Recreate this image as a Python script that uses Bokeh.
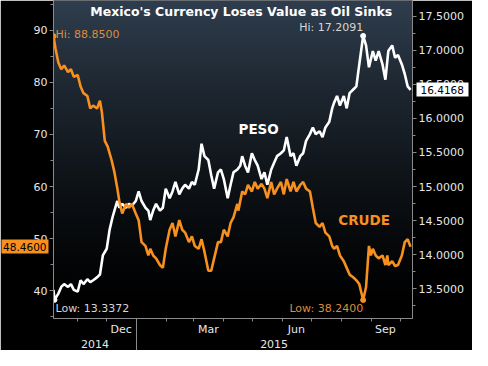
import numpy as np
import pandas as pd
from bokeh.plotting import figure
from bokeh.models import (Range1d, LinearAxis, DatetimeAxis, FixedTicker, SingleIntervalTicker,
                          NumeralTickFormatter, CustomJSTickFormatter, Label)
from bokeh.embed import file_html
from bokeh.resources import INLINE

# ---------------- data ----------------
crude_dates = [
    "2014-10-07", "2014-10-09", "2014-10-12", "2014-10-15", "2014-10-18", "2014-10-22", "2014-10-25",
    "2014-10-28", "2014-11-01", "2014-11-04", "2014-11-07", "2014-11-11", "2014-11-14", "2014-11-17",
    "2014-11-21", "2014-11-24", "2014-11-26", "2014-11-29", "2014-12-02", "2014-12-06", "2014-12-09",
    "2014-12-12", "2014-12-14", "2014-12-17", "2014-12-21", "2014-12-24", "2014-12-27", "2014-12-31",
    "2015-01-03", "2015-01-06", "2015-01-10", "2015-01-13", "2015-01-15", "2015-01-18", "2015-01-21",
    "2015-01-25", "2015-01-28", "2015-01-31", "2015-02-04", "2015-02-07", "2015-02-10", "2015-02-14",
    "2015-02-17", "2015-02-20", "2015-02-24", "2015-02-27", "2015-03-02", "2015-03-06", "2015-03-09",
    "2015-03-12", "2015-03-16", "2015-03-19", "2015-03-22", "2015-03-26", "2015-03-29", "2015-04-01",
    "2015-04-05", "2015-04-08", "2015-04-11", "2015-04-15", "2015-04-16", "2015-04-20", "2015-04-23",
    "2015-04-26", "2015-04-30", "2015-05-03", "2015-05-06", "2015-05-10", "2015-05-13", "2015-05-16",
    "2015-05-20", "2015-05-23", "2015-05-26", "2015-05-30", "2015-06-02", "2015-06-05", "2015-06-09",
    "2015-06-12", "2015-06-15", "2015-06-19", "2015-06-22", "2015-06-25", "2015-06-29", "2015-07-02",
    "2015-07-05", "2015-07-09", "2015-07-12", "2015-07-15", "2015-07-19", "2015-07-22", "2015-07-24",
    "2015-07-27", "2015-07-30", "2015-08-03", "2015-08-06", "2015-08-09", "2015-08-13", "2015-08-16",
    "2015-08-19", "2015-08-23", "2015-08-26", "2015-08-29", "2015-08-31", "2015-09-02", "2015-09-05",
    "2015-09-08", "2015-09-12", "2015-09-15", "2015-09-17", "2015-09-18", "2015-09-22", "2015-09-25",
    "2015-09-28", "2015-10-02", "2015-10-05", "2015-10-08", "2015-10-11",
]
crude_values = [
    88.85, 86.52, 83.77, 82.49, 83.22, 81.94, 82.49,
    81.03, 81.39, 79.19, 77.91, 77.36, 74.98, 75.53,
    74.98, 76.45, 74.25, 68.75, 67.66, 65.09, 62.71,
    59.60, 57.22, 54.84, 56.67, 55.93, 56.67, 54.84,
    53.55, 49.34, 48.61, 46.78, 48.06, 46.78, 46.23,
    44.95, 44.40, 48.06, 51.72, 53.00, 50.44, 53.55,
    51.72, 51.17, 49.34, 50.44, 48.61, 48.06, 49.89,
    47.51, 43.85, 43.85, 46.23, 49.34, 49.34, 51.72,
    50.44, 53.00, 54.10, 56.67, 55.38, 59.05, 58.50,
    60.33, 59.05, 60.88, 59.60, 60.51, 59.60, 57.77,
    60.88, 58.50, 59.60, 60.88, 58.50, 61.43, 59.05,
    60.88, 59.05, 60.33, 60.88, 59.60, 59.05, 55.93,
    53.00, 52.27, 53.00, 51.17, 50.44, 48.61, 48.06,
    48.61, 46.78, 45.68, 44.40, 43.11, 42.56, 42.01,
    41.28, 38.24, 40.73, 48.61, 46.78, 48.06, 46.78,
    46.23, 46.78, 44.95, 46.78, 44.95, 45.68, 44.76,
    44.95, 46.78, 49.34, 49.89, 48.46,
]

peso_dates = [
    "2014-10-07", "2014-10-08", "2014-10-12", "2014-10-15", "2014-10-18", "2014-10-22", "2014-10-25",
    "2014-10-28", "2014-11-01", "2014-11-04", "2014-11-07", "2014-11-11", "2014-11-14", "2014-11-17",
    "2014-11-21", "2014-11-24", "2014-11-27", "2014-12-01", "2014-12-04", "2014-12-07", "2014-12-11",
    "2014-12-12", "2014-12-14", "2014-12-17", "2014-12-21", "2014-12-24", "2014-12-27", "2014-12-31",
    "2015-01-03", "2015-01-06", "2015-01-10", "2015-01-13", "2015-01-15", "2015-01-18", "2015-01-21",
    "2015-01-25", "2015-01-28", "2015-01-31", "2015-02-04", "2015-02-07", "2015-02-10", "2015-02-14",
    "2015-02-17", "2015-02-20", "2015-02-24", "2015-02-27", "2015-03-02", "2015-03-06", "2015-03-09",
    "2015-03-12", "2015-03-16", "2015-03-19", "2015-03-22", "2015-03-26", "2015-03-29", "2015-04-01",
    "2015-04-05", "2015-04-08", "2015-04-11", "2015-04-15", "2015-04-18", "2015-04-20", "2015-04-23",
    "2015-04-26", "2015-04-30", "2015-05-03", "2015-05-06", "2015-05-10", "2015-05-13", "2015-05-16",
    "2015-05-20", "2015-05-23", "2015-05-26", "2015-05-30", "2015-06-02", "2015-06-05", "2015-06-09",
    "2015-06-12", "2015-06-15", "2015-06-19", "2015-06-22", "2015-06-25", "2015-06-29", "2015-07-02",
    "2015-07-05", "2015-07-09", "2015-07-12", "2015-07-15", "2015-07-19", "2015-07-22", "2015-07-24",
    "2015-07-27", "2015-07-30", "2015-08-03", "2015-08-06", "2015-08-09", "2015-08-13", "2015-08-16",
    "2015-08-19", "2015-08-23", "2015-08-26", "2015-08-29", "2015-09-02", "2015-09-05", "2015-09-08",
    "2015-09-12", "2015-09-15", "2015-09-18", "2015-09-22", "2015-09-25", "2015-09-28", "2015-10-02",
    "2015-10-05", "2015-10-08", "2015-10-11",
]
peso_values = [
    13.485, 13.3372, 13.429, 13.527, 13.569, 13.527, 13.569,
    13.485, 13.457, 13.625, 13.569, 13.639, 13.597, 13.625,
    13.667, 13.709, 13.989, 14.087, 14.367, 14.549, 14.745,
    14.787, 14.689, 14.745, 14.689, 14.745, 14.717, 14.787,
    14.927, 14.787, 14.689, 14.647, 14.507, 14.647, 14.745,
    14.647, 14.689, 14.969, 14.829, 14.927, 15.067, 14.885,
    14.969, 15.025, 14.969, 15.067, 15.025, 15.249, 15.627,
    15.445, 15.389, 15.165, 14.969, 15.207, 15.249, 15.109,
    14.829, 15.025, 15.207, 15.249, 15.305, 15.445, 15.305,
    15.207, 15.487, 15.389, 15.305, 15.109, 15.207, 15.025,
    15.249, 15.347, 15.445, 15.487, 15.529, 15.725, 15.445,
    15.487, 15.305, 15.445, 15.487, 15.669, 15.768, 15.866,
    15.768, 15.810, 15.725, 15.866, 15.950, 16.146, 16.230,
    16.328, 16.188, 16.328, 16.146, 16.370, 16.426, 16.468,
    16.790, 17.2091, 17.070, 16.748, 16.986, 16.846, 16.986,
    16.790, 16.566, 16.986, 17.070, 16.888, 16.930, 16.790,
    16.650, 16.468, 16.4168,
]

title_text = "Mexico's Currency Loses Value as Oil Sinks"
month_names = ["Jan", "Feb", "Mar", "Apr", "May", "Jun", "Jul", "Aug", "Sep", "Oct", "Nov", "Dec"]
month_label_dates = ["2014-12-16", "2015-03-16", "2015-06-15", "2015-09-15"]
month_start_dates = ["2014-11-01", "2014-12-01", "2015-01-01", "2015-02-01", "2015-03-01", "2015-04-01",
                     "2015-05-01", "2015-06-01", "2015-07-01", "2015-08-01", "2015-09-01", "2015-10-01"]
year_label_dates = ["2014-11-19", "2015-05-23"]
year_break_dates = ["2015-01-01"]
crude_ticks_interval = 10
peso_ticks_interval = 0.5

# ---------------- styling ----------------
ORANGE = "#f7901e"
ORANGE_TXT = "#dc8c3c"
WHITE = "#ffffff"
GRAY = "#8a8a8a"
TXT = "#e6e6e6"
FONT = "DejaVu Sans"

def ms(d):
    return pd.Timestamp(d).value / 1e6

x_start, x_end = "2014-10-07", "2015-10-13"
crude_lo, crude_hi = 34.69, 95.68
peso_lo, peso_hi = 13.064, 17.728

p = figure(width=472, height=350, x_axis_type="datetime",
           x_range=Range1d(ms(x_start), ms(x_end)), y_range=Range1d(crude_lo, crude_hi),
           output_backend="svg", toolbar_location=None,
           min_border_left=50, min_border_right=60, min_border_top=0, min_border_bottom=30,
           background_fill_color="#000000", border_fill_color="#000000", outline_line_color=None)
p.extra_y_ranges = {"peso": Range1d(peso_lo, peso_hi)}
p.xgrid.visible = False
p.ygrid.visible = False

# vertical gradient background of the plot area
n = 240
t = (np.linspace(0.0, 1.0, n) ** 1.4)[:, None]
top = np.array([47, 62, 78], dtype=float)[None, :]
rgb = (top * t).astype(np.uint8)
img = np.empty((n, 1), dtype=np.uint32)
view = img.view(dtype=np.uint8).reshape((n, 1, 4))
view[:, 0, 0] = rgb[:, 0]
view[:, 0, 1] = rgb[:, 1]
view[:, 0, 2] = rgb[:, 2]
view[:, 0, 3] = 255
p.image_rgba(image=[img], x=ms(x_start), y=crude_lo, dw=ms(x_end) - ms(x_start),
             dh=crude_hi - crude_lo, level="image")

crude_x = pd.to_datetime(crude_dates)
peso_x = pd.to_datetime(peso_dates)

p.line(peso_x, peso_values, y_range_name="peso", color=WHITE, line_width=2.6)
p.line(crude_x, crude_values, color=ORANGE, line_width=2.6)

ci_hi, ci_lo = int(np.argmax(crude_values)), int(np.argmin(crude_values))
pi_hi, pi_lo = int(np.argmax(peso_values)), int(np.argmin(peso_values))
p.scatter([crude_x[ci_hi], crude_x[ci_lo]], [crude_values[ci_hi], crude_values[ci_lo]],
          size=5, color=ORANGE)
p.scatter([peso_x[pi_hi], peso_x[pi_lo]], [peso_values[pi_hi], peso_values[pi_lo]],
          size=5, color=WHITE, y_range_name="peso")

# ---------------- axes ----------------
def style_axis(ax, size="11px"):
    ax.axis_line_color = GRAY
    ax.major_tick_line_color = GRAY
    ax.minor_tick_line_color = GRAY
    ax.major_label_text_color = TXT
    ax.major_label_text_font = FONT
    ax.major_label_text_font_size = size

ly = p.yaxis[0]
ly.ticker = SingleIntervalTicker(interval=crude_ticks_interval, num_minor_ticks=2)
style_axis(ly)
ly.major_tick_in = 0
ly.major_tick_out = 4
ly.minor_tick_in = 0
ly.minor_tick_out = 3
ly.major_label_standoff = 2

ry = LinearAxis(y_range_name="peso",
                ticker=SingleIntervalTicker(interval=peso_ticks_interval, num_minor_ticks=2),
                formatter=NumeralTickFormatter(format="0.0000"))
style_axis(ry)
ry.major_tick_in = 0
ry.major_tick_out = 4
ry.minor_tick_in = 0
ry.minor_tick_out = 3
ry.major_label_standoff = 2
p.add_layout(ry, "right")

# last-value boxes: single-tick axes whose thick tick forms the box behind the label
def value_box(ax, fill, tick_in, tick_out, standoff):
    ax.axis_line_color = None
    ax.minor_tick_line_color = None
    ax.major_tick_line_color = fill
    ax.major_tick_line_width = 14
    ax.major_tick_line_cap = "butt"
    ax.major_tick_in = tick_in
    ax.major_tick_out = tick_out
    ax.minor_tick_in = 0
    ax.minor_tick_out = 0
    ax.major_label_standoff = standoff
    ax.major_label_text_font = FONT
    ax.major_label_text_font_size = "10.5px"
    ax.major_label_text_color = "#000000"

ry2 = LinearAxis(y_range_name="peso", ticker=FixedTicker(ticks=[peso_values[-1]]),
                 formatter=NumeralTickFormatter(format="0.0000"))
value_box(ry2, WHITE, 50, 2, -48)
p.add_layout(ry2, "right")

ly2 = LinearAxis(ticker=FixedTicker(ticks=[crude_values[-1]]),
                 formatter=NumeralTickFormatter(format="0.0000"))
value_box(ly2, ORANGE, 18, 29, -45)
p.add_layout(ly2, "left")

bx = p.xaxis[0]
bx.ticker = FixedTicker(ticks=[ms(d) for d in month_label_dates],
                        minor_ticks=[ms(d) for d in month_start_dates])
bx.formatter = CustomJSTickFormatter(args=dict(names=month_names),
                                     code="return names[new Date(tick).getUTCMonth()];")
style_axis(bx)
bx.major_tick_line_color = None
bx.major_tick_in = 0
bx.major_tick_out = 3
bx.minor_tick_in = 0
bx.minor_tick_out = 3
bx.major_label_standoff = 1

yx = DatetimeAxis(ticker=FixedTicker(ticks=[ms(d) for d in year_label_dates],
                                     minor_ticks=[ms(d) for d in year_break_dates]),
                  formatter=CustomJSTickFormatter(code="return String(new Date(tick).getUTCFullYear());"))
style_axis(yx)
yx.axis_line_color = None
yx.major_tick_line_color = None
yx.major_tick_in = 0
yx.major_tick_out = 0
yx.minor_tick_in = 18
yx.minor_tick_out = 16
yx.major_label_standoff = -15
p.add_layout(yx, "below")

# ---------------- text annotations ----------------
p.add_layout(Label(x=ms("2015-04-19"), y=crude_hi, y_offset=-11, text=title_text,
                   text_align="center", text_baseline="middle", text_font=FONT,
                   text_font_style="bold", text_font_size="12.5px", text_color=WHITE))

p.add_layout(Label(x=ms("2015-05-07"), y=15.84, y_range_name="peso", text="PESO",
                   text_align="center", text_baseline="middle", text_font=FONT,
                   text_font_style="bold", text_font_size="13.5px", text_color=WHITE))
p.add_layout(Label(x=ms("2015-08-24"), y=53.55, text="CRUDE",
                   text_align="center", text_baseline="middle", text_font=FONT,
                   text_font_style="bold", text_font_size="13.5px", text_color=ORANGE))

p.add_layout(Label(x=ms(x_start), y=crude_values[ci_hi], x_offset=2, y_offset=2,
                   text=f"Hi: {crude_values[ci_hi]:.4f}", text_align="left", text_baseline="middle",
                   text_font=FONT, text_font_size="11px", text_color=ORANGE_TXT))
p.add_layout(Label(x=ms(peso_dates[pi_hi]), y=peso_values[pi_hi], y_range_name="peso", y_offset=2,
                   text=f"Hi: {peso_values[pi_hi]:.4f}", text_align="right", text_baseline="bottom",
                   text_font=FONT, text_font_size="11px", text_color="#d6d6d6"))
p.add_layout(Label(x=ms(x_start), y=peso_values[pi_lo], y_range_name="peso", x_offset=2, y_offset=-2,
                   text=f"Low: {peso_values[pi_lo]:.4f}", text_align="left", text_baseline="top",
                   text_font=FONT, text_font_size="11px", text_color="#d6d6d6"))
p.add_layout(Label(x=ms(crude_dates[ci_lo]), y=crude_values[ci_lo], y_offset=-2,
                   text=f"Low: {crude_values[ci_lo]:.4f}", text_align="right", text_baseline="top",
                   text_font=FONT, text_font_size="11px", text_color=ORANGE_TXT))

open("out.html", "w").write(file_html(p, INLINE))
